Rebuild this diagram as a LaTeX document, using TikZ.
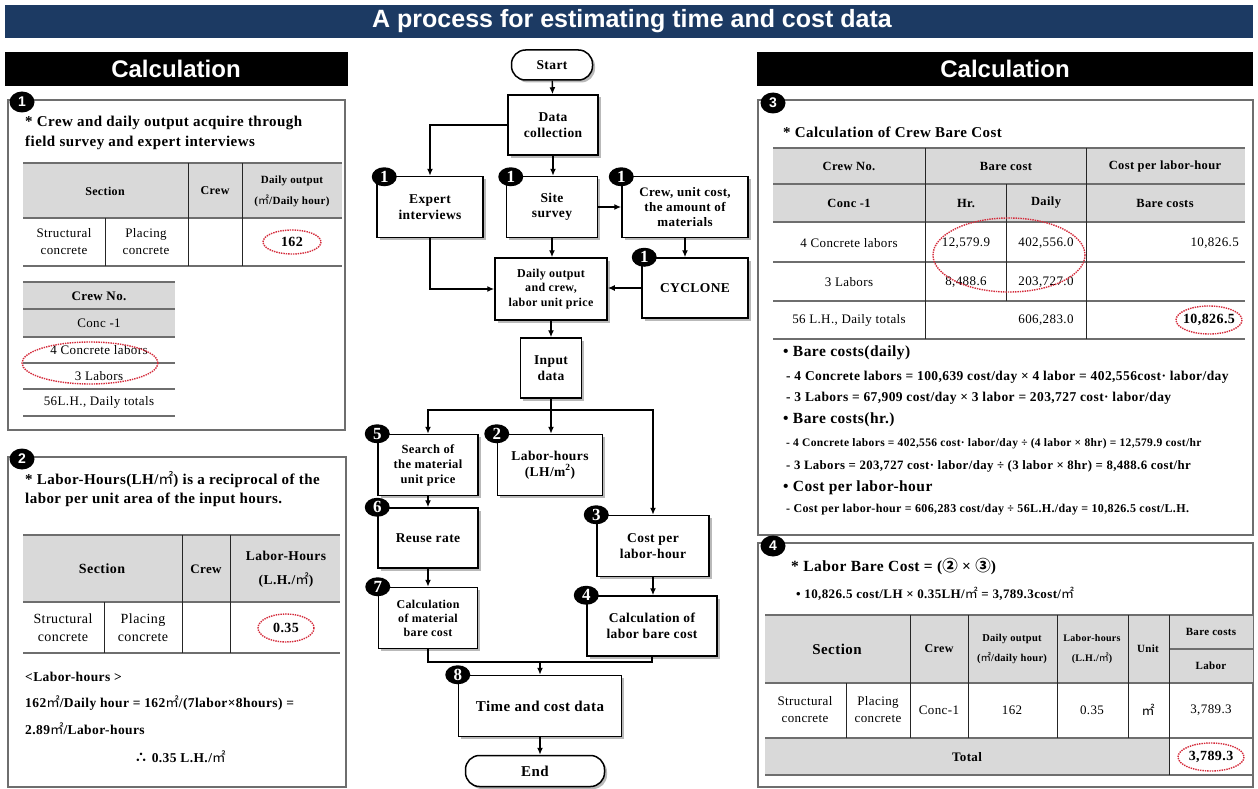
\documentclass[tikz,border=0pt]{standalone}
\usepackage{fontspec}
\setmainfont{Liberation Serif}[LetterSpace=3]
\setsansfont{Liberation Sans}
\newfontfamily\cjk{Noto Sans CJK KR}
\usetikzlibrary{positioning,shadows,arrows.meta,shapes.geometric}

\definecolor{titleblue}{HTML}{1C3A63}
\definecolor{headgray}{HTML}{D9D9D9}
\definecolor{ovalred}{HTML}{D42A3A}
\definecolor{rulegray}{HTML}{6E6E6E}

\newcommand{\sqm}{{\cjk\mdseries ㎡}}

\tikzset{
  hdtext/.style={text=white, font=\sffamily\bfseries\fontsize{24}{26}\selectfont},
  panel/.style={draw=rulegray, line width=1.2pt},
  pbadge/.style={ellipse, fill=black, text=white, inner sep=0pt,
    minimum width=25pt, minimum height=21pt, font=\sffamily\bfseries\fontsize{14}{14}\selectfont},
  fbadge/.style={ellipse, fill=black, text=white, inner sep=0pt,
    minimum width=25pt, minimum height=19pt, font=\bfseries\fontsize{17}{17}\selectfont},
  flowbox/.style={draw, line width=1.5pt, fill=white, align=center, inner sep=1pt,
    font=\bfseries\fontsize{13.5}{15.5}\selectfont,
    drop shadow={shadow xshift=2.5pt, shadow yshift=-2.5pt, fill=black!50, opacity=.55}},
  terminal/.style={flowbox, rounded corners=14pt},
  arr/.style={line width=1.4pt, -{Latex[length=7pt,width=6pt]}},
  link/.style={line width=1.4pt},
  hline/.style={rulegray, line width=1.6pt},
  vline/.style={black!85, line width=0.8pt},
  cell/.style={align=center, inner sep=0pt, font=\fontsize{13}{17}\selectfont},
  hcell/.style={align=center, inner sep=0pt, font=\bfseries\fontsize{12}{19}\selectfont},
  note/.style={anchor=west, inner sep=0pt, font=\bfseries\fontsize{15}{17}\selectfont},
  line/.style={anchor=west, inner sep=0pt, font=\bfseries\fontsize{13.5}{15}\selectfont},
  oval/.style={draw=ovalred, densely dotted, line width=1.4pt}
}

\begin{document}
\begin{tikzpicture}[x=1pt,y=-1pt]
\useasboundingbox (0,0) rectangle (1258,789);
\fill[white] (0,0) rectangle (1258,789);

% Title bar and section headers
\fill[titleblue] (5,5) rectangle (1253,38);
\node[hdtext, font=\sffamily\bfseries\fontsize{25}{27}\selectfont] (title) at (632,21) {A process for estimating time and cost data};
\fill[black] (5,52) rectangle (348,86);
\node[hdtext] (calcL) at (176,69) {Calculation};
\fill[black] (757,52) rectangle (1253,86);
\node[hdtext] (calcR) at (1005,69) {Calculation};

%% ---------------- left panel 1 ----------------
\draw[panel] (8,100) rectangle (345,430);
\node[pbadge] (b1) at (22,102) {1};
\node[note] (n1a) at (25,123) {* Crew and daily output acquire through};
\node[note] (n1b) at (25,143) {field survey and expert interviews};

\fill[headgray] (23,163) rectangle (342,218);
\foreach \y in {163,218,266} \draw[hline] (23,\y) -- (342,\y);
\draw[vline] (105,218) -- (105,266);
\foreach \x in {188,242} \draw[vline] (\x,163) -- (\x,266);
\node[hcell] (t1sec) at (105,191) {Section};
\node[hcell] (t1crew) at (215,191) {Crew};
\node[hcell, font=\bfseries\fontsize{11}{21}\selectfont] (t1out) at (292,191) {Daily output\\(\sqm/Daily hour)};
\node[cell] (t1s) at (64,242) {Structural\\concrete};
\node[cell] (t1p) at (146,242) {Placing\\concrete};
\node[cell, font=\bfseries\fontsize{14}{17}\selectfont] (t1v) at (292,242) {162};
\draw[oval] (t1v) ellipse (29 and 12);

\fill[headgray] (23,282) rectangle (175,337);
\foreach \y in {282,309,337,363,389,416} \draw[hline] (23,\y) -- (175,\y);
\node[hcell, font=\bfseries\fontsize{13}{15}\selectfont] (c1) at (99,296) {Crew No.};
\node[cell] (c2) at (99,323) {Conc -1};
\node[cell] (c3) at (99,350) {4 Concrete labors};
\node[cell] (c4) at (99,376) {3 Labors};
\node[cell] (c5) at (99,402) {56L.H., Daily totals};
\draw[oval] (90,363) ellipse (68 and 21);

%% ---------------- left panel 2 ----------------
\draw[panel] (8,457) rectangle (346,787);
\node[pbadge] (b2) at (22,459) {2};
\node[note] (n2a) at (25,480) {* Labor-Hours(LH/\sqm) is a reciprocal of the};
\node[note] (n2b) at (25,500) {labor per unit area of the input hours.};

\fill[headgray] (23,535) rectangle (340,602);
\foreach \y in {535,602,653} \draw[hline] (23,\y) -- (340,\y);
\draw[vline] (104,602) -- (104,653);
\foreach \x in {182,230} \draw[vline] (\x,535) -- (\x,653);
\node[hcell, font=\bfseries\fontsize{14}{17}\selectfont] (t2sec) at (102,569) {Section};
\node[hcell, font=\bfseries\fontsize{13}{17}\selectfont] (t2crew) at (206,569) {Crew};
\node[hcell, font=\bfseries\fontsize{13.5}{24}\selectfont] (t2lh) at (286,569) {Labor-Hours\\(L.H./\sqm)};
\node[cell, font=\fontsize{14}{18}\selectfont] (t2s) at (63,628) {Structural\\concrete};
\node[cell, font=\fontsize{14}{18}\selectfont] (t2p) at (143,628) {Placing\\concrete};
\node[cell, font=\bfseries\fontsize{14}{17}\selectfont] (t2v) at (286,628) {0.35};
\draw[oval] (t2v) ellipse (28 and 14);

\node[line] (l2a) at (25,677) {<Labor-hours >};
\node[line] (l2b) at (25,703) {162\sqm/Daily hour = 162\sqm/(7labor×8hours) =};
\node[line] (l2c) at (25,729) {2.89\sqm/Labor-hours};
\node[line, anchor=center] (l2d) at (180,757) {{\cjk ∴} 0.35 L.H./\sqm};

%% ---------------- flowchart ----------------
\node[terminal, minimum width=81pt, minimum height=30pt] (start) at (552,65) {Start};
\node[flowbox, minimum width=90pt, minimum height=60pt] (data) at (553,125) {Data\\collection};
\node[flowbox, minimum width=106pt, minimum height=61pt] (expert) at (430,207) {Expert\\interviews};
\node[flowbox, minimum width=91pt, minimum height=61pt] (site) at (552,207) {Site\\survey};
\node[flowbox, minimum width=126pt, minimum height=61pt, font=\bfseries\fontsize{13}{15}\selectfont] (crew) at (685,207) {Crew, unit cost,\\the amount of\\materials};
\node[flowbox, minimum width=112pt, minimum height=62pt, font=\bfseries\fontsize{12}{14.5}\selectfont] (daily) at (551,289) {Daily output\\and crew,\\labor unit price};
\node[flowbox, minimum width=106pt, minimum height=60pt] (cyclone) at (695,288) {CYCLONE};
\node[flowbox, minimum width=61pt, minimum height=60pt] (input) at (551,368) {Input\\data};
\node[flowbox, minimum width=100pt, minimum height=61pt, font=\bfseries\fontsize{12.5}{15}\selectfont] (search) at (428,465) {Search of\\the material\\unit price};
\node[flowbox, minimum width=105pt, minimum height=61pt] (lh) at (550,465) {Labor-hours\\(LH/m\textsuperscript{2})};
\node[flowbox, minimum width=100pt, minimum height=60pt] (reuse) at (428,538) {Reuse rate};
\node[flowbox, minimum width=112pt, minimum height=61pt] (cplh) at (653,546) {Cost per\\labor-hour};
\node[flowbox, minimum width=99pt, minimum height=61pt, font=\bfseries\fontsize{12}{14}\selectfont] (calcmat) at (428,618) {Calculation\\of material\\bare cost};
\node[flowbox, minimum width=130pt, minimum height=60pt] (calclab) at (652,626) {Calculation of\\labor bare cost};
\node[flowbox, minimum width=163pt, minimum height=61pt, font=\bfseries\fontsize{15}{17}\selectfont] (tcd) at (540,706) {Time and cost data};
\node[terminal, minimum width=139pt, minimum height=31pt, font=\bfseries\fontsize{15}{17}\selectfont] (end) at (535,771) {End};

% step badges
\node[fbadge, xshift=8pt, yshift=-1pt] (fb1) at (expert.north west) {1};
\node[fbadge, xshift=5pt, yshift=-1pt] (fb2) at (site.north west) {1};
\node[fbadge, yshift=-1pt] (fb3) at (crew.north west) {1};
\node[fbadge, xshift=3pt] (fb4) at (cyclone.north west) {1};
\node[fbadge] (fb5) at (search.north west) {5};
\node[fbadge] (fb6) at (lh.north west) {2};
\node[fbadge] (fb7) at (reuse.north west) {6};
\node[fbadge] (fb8) at (cplh.north west) {3};
\node[fbadge] (fb9) at (calcmat.north west) {7};
\node[fbadge] (fb10) at (calclab.north west) {4};
\node[fbadge] (fb11) at (tcd.north west) {8};

% connectors
\draw[arr] (start) -- (data);
\draw[arr] (data.west) -| (expert.north);
\draw[arr] (data) -- (data |- site.north);
\draw[arr] (site) -- (crew);
\draw[arr] (crew) -- (crew |- cyclone.north);
\draw[arr] (expert) |- (daily);
\draw[arr] (site) -- (site |- daily.north);
\draw[arr] (cyclone.west) -- (cyclone.west -| daily.east);
\draw[arr] (daily) -- (input);
\coordinate (branch) at (551,410);
\draw[link] (input) -- (branch);
\draw[arr] (branch) -| (search);
\draw[arr] (branch) -- (branch |- lh.north);
\draw[arr] (branch) -| (cplh);
\draw[arr] (search) -- (reuse);
\draw[arr] (reuse) -- (calcmat);
\draw[arr] (cplh) -- (cplh |- calclab.north);
\coordinate (merge) at (540,662);
\draw[link] (calcmat) |- (merge);
\draw[link] (calclab) |- (merge);
\draw[arr] (merge) -- (tcd);
\draw[arr] (tcd) -- (tcd |- end.north);

%% ---------------- right panel 3 ----------------
\draw[panel] (758,100) rectangle (1253,535);
\node[pbadge] (b3) at (773,103) {3};
\node[note] (n3a) at (783,132) {* Calculation of Crew Bare Cost};

\fill[headgray] (773,148) rectangle (1245,222);
\foreach \y in {148,184,222,262,301,339} \draw[hline] (773,\y) -- (1245,\y);
\foreach \x in {925,1086} \draw[vline] (\x,148) -- (\x,339);
\draw[vline] (1006,184) -- (1006,301);
\node[hcell, font=\bfseries\fontsize{12.5}{15}\selectfont] (h1) at (849,166) {Crew No.};
\node[hcell, font=\bfseries\fontsize{12.5}{15}\selectfont] (h2) at (1006,166) {Bare cost};
\node[hcell, font=\bfseries\fontsize{12.5}{15}\selectfont] (h3) at (1165,166) {Cost per labor-hour};
\node[hcell, font=\bfseries\fontsize{12.5}{15}\selectfont] (h4) at (849,203) {Conc -1};
\node[hcell, font=\bfseries\fontsize{12.5}{15}\selectfont] (h5) at (966,203) {Hr.};
\node[hcell, font=\bfseries\fontsize{12.5}{15}\selectfont] (h6) at (1046,203) {Daily};
\node[hcell, font=\bfseries\fontsize{12.5}{15}\selectfont] (h7) at (1165,203) {Bare costs};
\node[cell] (r1a) at (849,243) {4 Concrete labors};
\node[cell] (r1b) at (966,243) {12,579.9};
\node[cell] (r1c) at (1046,243) {402,556.0};
\node[cell, anchor=east] (r1d) at (1239,243) {10,826.5};
\node[cell] (r2a) at (849,282) {3 Labors};
\node[cell] (r2b) at (966,282) {8,488.6};
\node[cell] (r2c) at (1046,282) {203,727.0};
\node[cell] (r3a) at (849,320) {56 L.H., Daily totals};
\node[cell] (r3c) at (1046,320) {606,283.0};
\node[cell, font=\bfseries\fontsize{14}{17}\selectfont] (r3d) at (1209,320) {10,826.5};
\draw[oval] (1009,255) ellipse (76 and 37);
\draw[oval] (r3d) ellipse (33 and 14);

\node[note, font=\bfseries\fontsize{15.5}{17}\selectfont] (d1) at (783,353) {• Bare costs(daily)};
\node[line] (d2) at (786,377) {- 4 Concrete labors = 100,639 cost/day × 4 labor = 402,556cost· labor/day};
\node[line] (d3) at (786,398) {- 3 Labors = 67,909 cost/day × 3 labor = 203,727 cost· labor/day};
\node[note, font=\bfseries\fontsize{15.5}{17}\selectfont] (d4) at (783,420) {• Bare costs(hr.)};
\node[line, font=\bfseries\fontsize{11.5}{14}\selectfont] (d5) at (786,444) {- 4 Concrete labors = 402,556 cost· labor/day ÷ (4 labor × 8hr) = 12,579.9 cost/hr};
\node[line, font=\bfseries\fontsize{12.8}{14}\selectfont] (d6) at (786,466) {- 3 Labors = 203,727 cost· labor/day ÷ (3 labor × 8hr) = 8,488.6 cost/hr};
\node[note, font=\bfseries\fontsize{15.5}{17}\selectfont] (d7) at (783,488) {• Cost per labor-hour};
\node[line, font=\bfseries\fontsize{12}{14}\selectfont] (d8) at (786,510) {- Cost per labor-hour = 606,283 cost/day ÷ 56L.H./day = 10,826.5 cost/L.H.};

%% ---------------- right panel 4 ----------------
\draw[panel] (758,543) rectangle (1253,787);
\node[pbadge] (b4) at (773,546) {4};
\node[note, font=\bfseries\fontsize{15.5}{17}\selectfont] (n4a) at (791,567) {* Labor Bare Cost = ({\cjk ②} × {\cjk ③})};
\node[line, font=\bfseries\fontsize{13}{15}\selectfont] (n4b) at (796,594) {• 10,826.5 cost/LH × 0.35LH/\sqm{} = 3,789.3cost/\sqm};

\fill[headgray] (765,615) rectangle (1253,683);
\fill[headgray] (765,738) rectangle (1169,775);
\foreach \y in {615,683,738,775} \draw[hline] (765,\y) -- (1253,\y);
\draw[hline] (1169,649) -- (1253,649);
\draw[vline] (846,683) -- (846,738);
\foreach \x in {910,968,1057,1128} \draw[vline] (\x,615) -- (\x,738);
\draw[vline] (1169,615) -- (1169,775);
\node[hcell, font=\bfseries\fontsize{15}{17}\selectfont] (k1) at (837,649) {Section};
\node[hcell] (k2) at (939,649) {Crew};
\node[hcell, font=\bfseries\fontsize{10.5}{20}\selectfont] (k3) at (1012,649) {Daily output\\(\sqm/daily hour)};
\node[hcell, font=\bfseries\fontsize{10}{20}\selectfont] (k4) at (1092,649) {Labor-hours\\(L.H./\sqm)};
\node[hcell, font=\bfseries\fontsize{11}{13}\selectfont] (k5) at (1148,649) {Unit};
\node[hcell, font=\bfseries\fontsize{11}{13}\selectfont] (k6) at (1211,632) {Bare costs};
\node[hcell, font=\bfseries\fontsize{11}{13}\selectfont] (k7) at (1211,666) {Labor};
\node[cell] (m1) at (805,710) {Structural\\concrete};
\node[cell] (m2) at (878,710) {Placing\\concrete};
\node[cell] (m3) at (939,710) {Conc-1};
\node[cell] (m4) at (1012,710) {162};
\node[cell] (m5) at (1092,710) {0.35};
\node[cell] (m6) at (1148,710) {\sqm};
\node[cell] (m7) at (1211,710) {3,789.3};
\node[hcell, font=\bfseries\fontsize{13}{15}\selectfont] (m8) at (967,757) {Total};
\node[cell, font=\bfseries\fontsize{14}{17}\selectfont] (m9) at (1211,757) {3,789.3};
\draw[oval] (m9) ellipse (33 and 14);
\end{tikzpicture}
\end{document}
